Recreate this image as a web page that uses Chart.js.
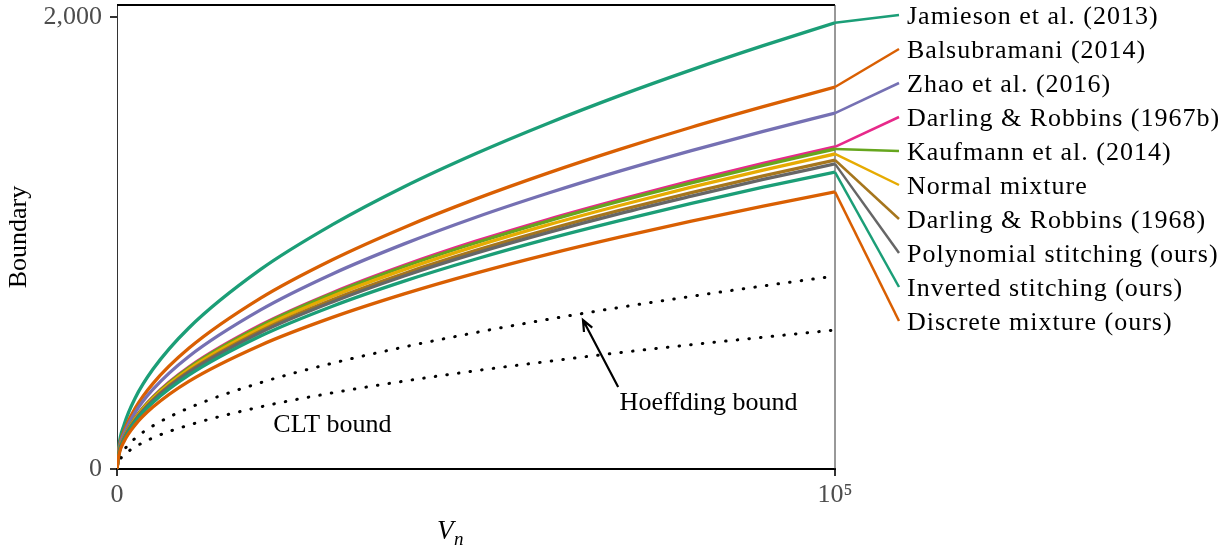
<!DOCTYPE html>
<html>
<head>
<meta charset="utf-8">
<title>Boundary comparison</title>
<script src="https://cdn.jsdelivr.net/npm/chart.js"></script>
<style>
  body { margin: 0; background: #fff; }
  canvas { display: block; }
</style>
</head>
<body>
<canvas id="chart" width="1228" height="546"></canvas>
<script>
const vn = [0, 250, 1000, 2500, 5000, 10000, 20000, 30000, 40000, 50000, 60000, 70000, 80000, 90000, 100000];

const jamieson = [0, 99, 197, 312, 441, 624, 883, 1081, 1249, 1396, 1529, 1652, 1766, 1873, 1974];
const balsubramani = [0, 85, 169, 267, 378, 534, 756, 926, 1069, 1195, 1309, 1414, 1512, 1603, 1690];
const zhao = [0, 79, 158, 249, 352, 498, 704, 863, 996, 1114, 1220, 1318, 1409, 1494, 1575];
const darling1967b = [0, 71, 143, 225, 319, 451, 637, 780, 901, 1008, 1104, 1192, 1275, 1352, 1425];
const kaufmann = [0, 71, 142, 224, 317, 448, 633, 776, 896, 1001, 1097, 1185, 1266, 1343, 1416];
const normalMixture = [0, 70, 139, 220, 312, 441, 623, 764, 882, 986, 1080, 1166, 1247, 1322, 1394];
const darling1968 = [0, 68, 137, 216, 306, 432, 611, 749, 865, 967, 1059, 1144, 1223, 1297, 1367];
const polyStitching = [0, 68, 135, 213, 302, 427, 604, 739, 854, 955, 1046, 1130, 1207, 1281, 1350];
const invStitching = [0, 66, 131, 208, 294, 415, 588, 720, 831, 929, 1018, 1099, 1175, 1247, 1314];
const discreteMixture = [0, 61, 123, 194, 274, 388, 548, 671, 775, 867, 950, 1026, 1097, 1163, 1226];
const hoeffding = [0, 43, 85, 135, 191, 270, 382, 468, 540, 604, 662, 715, 764, 810, 854];
const clt = [0, 31, 62, 97, 138, 194, 275, 337, 389, 435, 476, 515, 550, 583, 615];

const seriesNames = [
  "Jamieson et al. (2013)",
  "Balsubramani (2014)",
  "Zhao et al. (2016)",
  "Darling & Robbins (1967b)",
  "Kaufmann et al. (2014)",
  "Normal mixture",
  "Darling & Robbins (1968)",
  "Polynomial stitching (ours)",
  "Inverted stitching (ours)",
  "Discrete mixture (ours)",
];
const seriesValues = [jamieson, balsubramani, zhao, darling1967b, kaufmann, normalMixture,
  darling1968, polyStitching, invStitching, discreteMixture];
const seriesColors = ["#1b9e77", "#d95f02", "#7570b3", "#e7298a", "#66a61e", "#e6ab02",
  "#a6761d", "#666666", "#1b9e77", "#d95f02"];

const yTicks = [0, 2000];
const xTicks = [0, 100000];
const xTickLabels = ["0", "10\u2075"];

const FONT = "'Liberation Serif', 'DejaVu Serif', serif";

const datasets = seriesValues.map((vals, i) => ({
  label: seriesNames[i],
  data: vals.map((v, j) => ({ x: vn[j], y: v })),
  borderColor: seriesColors[i],
  borderWidth: 3.3,
  pointRadius: 0,
  cubicInterpolationMode: "monotone",
  order: -i,
}));

[hoeffding, clt].forEach((vals, k) => {
  datasets.push({
    label: k === 0 ? "Hoeffding bound" : "CLT bound",
    data: vals.map((v, j) => ({ x: vn[j], y: v })),
    borderColor: "#000",
    borderWidth: 3,
    borderDash: [0.5, 11.2],
    borderCapStyle: "round",
    pointRadius: 0,
    cubicInterpolationMode: "monotone",
    order: 10 + k,
  });
});

const decorations = {
  id: "decorations",
  beforeDatasetsDraw(chart) {
    const { ctx, chartArea: a } = chart;
    ctx.save();
    ctx.strokeStyle = "#000";
    ctx.lineWidth = 2;
    ctx.beginPath();
    ctx.moveTo(a.left, a.top);
    ctx.lineTo(a.right, a.top);
    ctx.stroke();
    ctx.strokeStyle = "#333";
    ctx.lineWidth = 1;
    ctx.beginPath();
    ctx.moveTo(a.right, a.top);
    ctx.lineTo(a.right, a.bottom);
    ctx.stroke();
    ctx.restore();
  },
  afterDatasetsDraw(chart) {
    const { ctx, scales: { x, y } } = chart;
    ctx.save();

    // leader lines + labels on the right
    const x0 = x.getPixelForValue(vn[vn.length - 1]);
    seriesValues.forEach((vals, i) => {
      const y0 = y.getPixelForValue(vals[vals.length - 1]);
      const ly = 15 + i * 34;
      ctx.strokeStyle = seriesColors[i];
      ctx.lineWidth = 2.5;
      ctx.beginPath();
      ctx.moveTo(x0, y0);
      ctx.lineTo(899, ly);
      ctx.stroke();
      ctx.fillStyle = "#000";
      ctx.font = "26px " + FONT;
      ctx.letterSpacing = "1px";
      ctx.textAlign = "left";
      ctx.textBaseline = "middle";
      ctx.fillText(seriesNames[i], 907, ly + 2);
    });
    ctx.letterSpacing = "0px";

    // annotations
    ctx.fillStyle = "#000";
    ctx.font = "26px " + FONT;
    ctx.textBaseline = "middle";
    ctx.textAlign = "center";
    ctx.fillText("CLT bound", x.getPixelForValue(30000), y.getPixelForValue(195));
    ctx.textAlign = "left";
    ctx.fillText("Hoeffding bound", x.getPixelForValue(70000), y.getPixelForValue(292));

    const tx = x.getPixelForValue(69800), ty = y.getPixelForValue(363);
    const hx = x.getPixelForValue(64900), hy = y.getPixelForValue(659);
    const ang = Math.atan2(hy - ty, hx - tx);
    ctx.strokeStyle = "#000";
    ctx.lineWidth = 2.2;
    ctx.beginPath();
    ctx.moveTo(tx, ty);
    ctx.lineTo(hx, hy);
    ctx.moveTo(hx - 12 * Math.cos(ang - 0.4), hy - 12 * Math.sin(ang - 0.4));
    ctx.lineTo(hx, hy);
    ctx.lineTo(hx - 12 * Math.cos(ang + 0.4), hy - 12 * Math.sin(ang + 0.4));
    ctx.stroke();

    // x axis title V_n
    ctx.textAlign = "left";
    ctx.textBaseline = "alphabetic";
    ctx.font = "italic 27px " + FONT;
    ctx.fillText("V", 437, 539);
    ctx.font = "italic 19px " + FONT;
    ctx.fillText("n", 454, 545);
    ctx.restore();
  },
};

new Chart(document.getElementById("chart"), {
  type: "line",
  data: { datasets },
  options: {
    responsive: false,
    animation: false,
    devicePixelRatio: 1,
    layout: { autoPadding: false, padding: { left: 0, right: 393, top: 5, bottom: 0 } },
    plugins: { legend: { display: false }, tooltip: { enabled: false } },
    scales: {
      x: {
        type: "linear",
        min: 0,
        max: 100000,
        afterBuildTicks: (s) => { s.ticks = xTicks.map((v) => ({ value: v })); },
        afterFit: (s) => { s.height = 77; s.paddingLeft = 0; s.paddingRight = 0; },
        ticks: {
          autoSkip: false,
          maxRotation: 0,
          padding: 4,
          color: "#4d4d4d",
          font: { family: FONT, size: 26 },
          callback: (v) => xTickLabels[xTicks.indexOf(v)],
        },
        grid: { drawOnChartArea: false, drawTicks: true, tickLength: 7, color: "#333", lineWidth: 2 },
        border: { color: "#000", width: 2 },
      },
      y: {
        min: 0,
        max: 2053,
        afterBuildTicks: (s) => { s.ticks = yTicks.map((v) => ({ value: v })); },
        afterFit: (s) => { s.width = 117; s.paddingTop = 0; s.paddingBottom = 0; },
        ticks: {
          padding: 8,
          color: "#4d4d4d",
          font: { family: FONT, size: 26 },
          callback: (v) => v.toLocaleString("en-US"),
        },
        grid: { drawOnChartArea: false, drawTicks: true, tickLength: 7, color: "#333", lineWidth: 2 },
        border: { color: "#333", width: 1 },
        title: {
          display: true,
          text: "Boundary",
          color: "#000",
          font: { family: FONT, size: 26 },
          padding: { top: 4, bottom: 0 },
        },
      },
    },
  },
  plugins: [decorations],
});
</script>
</body>
</html>
